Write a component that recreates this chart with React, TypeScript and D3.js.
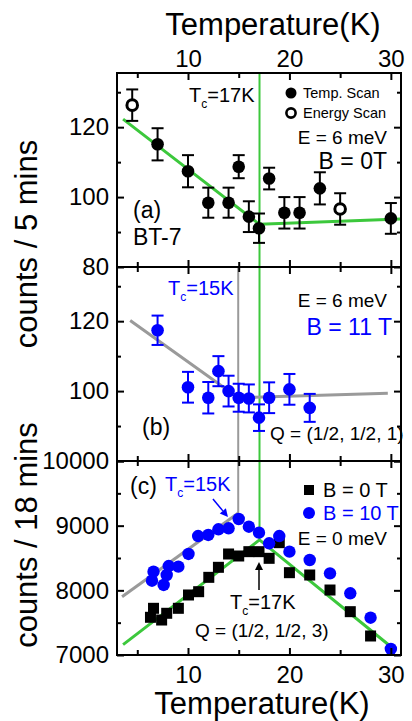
import React, { useEffect, useRef } from 'react';
import * as d3 from 'd3';

const WIDTH = 412;
const HEIGHT = 721;
const LEFT = 117;
const RIGHT = 401;
const TOP = 73;
const PANEL_H = 194;
const FONT = '"Liberation Sans", Arial, Helvetica, sans-serif';
const GREEN = '#3cc83c';
const GREY = '#9a9a9a';
const BLUE = '#0000ff';

// panel (a): B = 0T, E = 6 meV
const aTempT = [7, 10, 12, 14, 15, 16, 17, 18, 19.5, 21, 23, 30];
const aTempV = [115.1, 107.4, 98.4, 98.4, 108.7, 94.4, 91.1, 105.3, 95.5, 95.5, 102.5, 93.9];
const aTempErr = [4.6, 4.6, 4.3, 4.3, 3.3, 4.4, 4.2, 3.1, 4.5, 4.5, 4.6, 4.4];
const aEnergyT = [4.5, 25];
const aEnergyV = [126.3, 96.6];
const aEnergyErr = [4.5, 4.5];
const aFitT = [3.6, 17.05, 30.9];
const aFitV = [122.3, 92.2, 93.7];

// panel (b): B = 11 T
const bT = [7, 10, 12, 13, 14, 15, 16, 17, 18, 20, 22];
const bV = [117.4, 101.1, 98.1, 105.7, 100.0, 98.1, 97.9, 92.4, 98.1, 100.5, 95.2];
const bErr = [4.2, 4.4, 4.5, 4.3, 4.4, 4.0, 4.0, 3.8, 4.4, 4.4, 4.0];
const bFitT = [4.3, 14.95, 29.7];
const bFitV = [120.2, 98.1, 99.4];

// panel (c): E = 0 meV
const c0T = [6.3, 6.6, 7.4, 7.9, 9.05, 10.05, 11.05, 12.05, 13.0, 14.0, 15.0, 16.0, 17.0, 18.0, 19.0, 20.0, 22.0, 24.0, 26.0, 28.0];
const c0V = [7583, 7722, 7541, 7645, 7722, 7928, 7979, 8201, 8356, 8562, 8531, 8598, 8598, 8495, 8737, 8273, 8237, 8005, 7670, 7294];
const c10T = [6.45, 6.6, 7.6, 7.9, 8.1, 9.05, 10.05, 11.0, 12.0, 13.0, 14.0, 15.0, 16.0, 17.0, 18.0, 19.0, 20.0, 22.0, 24.0, 26.0, 28.0, 30.0];
const c10V = [8149, 8288, 8083, 8237, 8376, 8366, 8562, 8840, 8856, 8944, 8959, 9103, 8984, 8892, 8727, 8840, 8598, 8469, 8263, 7954, 7577, 7093];
const cGreenT = [3.6, 17.05, 30.5];
const cGreenV = [7160, 8780, 7066];
const cGreyT = [3.5, 15];
const cGreyV = [7900, 9200];

const xScale = d3.scaleLinear().domain([3, 31]).range([LEFT, RIGHT]);
const yA = d3.scaleLinear().domain([80, 135.5]).range([TOP + PANEL_H, TOP]);
const yB = d3.scaleLinear().domain([80, 135.5]).range([TOP + 2 * PANEL_H, TOP + PANEL_H]);
const yC = d3.scaleLinear().domain([7000, 10000]).range([TOP + 3 * PANEL_H, TOP + 2 * PANEL_H]);

const noLabel = () => '';
const xMajor = [10, 20, 30];
const xMinor = [5, 15, 25];

const mkY = (scale, major, minor, labels) => [
    { axis: d3.axisLeft(scale).tickValues(major).tickSize(-7).tickPadding(8)
        .tickFormat(d => (labels.includes(d) ? String(d) : '')), tr: `translate(${LEFT},0)` },
    { axis: d3.axisLeft(scale).tickValues(minor).tickSize(-4).tickFormat(noLabel), tr: `translate(${LEFT},0)` },
    { axis: d3.axisRight(scale).tickValues(major).tickSize(-7).tickFormat(noLabel), tr: `translate(${RIGHT},0)` },
    { axis: d3.axisRight(scale).tickValues(minor).tickSize(-4).tickFormat(noLabel), tr: `translate(${RIGHT},0)` },
];

const mkX = (top, bottom, topLabels, bottomLabels) => [
    { axis: d3.axisTop(xScale).tickValues(xMajor).tickSize(-7).tickPadding(6)
        .tickFormat(topLabels ? d3.format('d') : noLabel), tr: `translate(0,${top})` },
    { axis: d3.axisTop(xScale).tickValues(xMinor).tickSize(-5).tickFormat(noLabel), tr: `translate(0,${top})` },
    { axis: d3.axisBottom(xScale).tickValues(xMajor).tickSize(-7).tickPadding(11)
        .tickFormat(bottomLabels ? d3.format('d') : noLabel), tr: `translate(0,${bottom})` },
    { axis: d3.axisBottom(xScale).tickValues(xMinor).tickSize(-5).tickFormat(noLabel), tr: `translate(0,${bottom})` },
];

const AXES = [
    ...mkY(yA, [80, 100, 120], [90, 110, 130], [80, 100, 120]),
    ...mkY(yB, [80, 100, 120], [90, 110, 130], [100, 120]),
    ...mkY(yC, [7000, 8000, 9000, 10000], [7500, 8500, 9500], [7000, 8000, 9000, 10000]),
    ...mkX(TOP, TOP + PANEL_H, true, false),
    ...mkX(TOP + PANEL_H, TOP + 2 * PANEL_H, false, false),
    ...mkX(TOP + 2 * PANEL_H, TOP + 3 * PANEL_H, false, true),
];

const Axis = ({ axis, transform }) => {
    const ref = useRef(null);
    useEffect(() => {
        const g = d3.select(ref.current);
        g.call(axis);
        g.select('.domain').remove();
        g.selectAll('line').attr('stroke', '#000').attr('stroke-width', 2);
        g.selectAll('text').attr('font-size', 24).attr('font-family', FONT).attr('fill', '#000');
    }, [axis]);
    return <g ref={ref} transform={transform} />;
};

const line = d3.line();

const ErrorPoints = ({ ts, vs, es, y, color, open }) => (
    <g>
        {ts.map((t, i) => {
            const cx = xScale(t);
            const y1 = y(vs[i] + es[i]);
            const y2 = y(vs[i] - es[i]);
            return (
                <g key={i} stroke={color} strokeWidth={2}>
                    <line x1={cx} x2={cx} y1={y1} y2={y2} />
                    <line x1={cx - 6} x2={cx + 6} y1={y1} y2={y1} />
                    <line x1={cx - 6} x2={cx + 6} y1={y2} y2={y2} />
                    {open
                        ? <circle cx={cx} cy={y(vs[i])} r={5.3} fill="#fff" stroke={color} strokeWidth={3} />
                        : <circle cx={cx} cy={y(vs[i])} r={6.3} fill={color} stroke="none" />}
                </g>
            );
        })}
    </g>
);

const Tc = ({ x, y, value, color }) => (
    <text x={x} y={y} fontSize={20} fill={color} fontFamily={FONT}>
        T<tspan dy={6} fontSize={12}>c</tspan><tspan dy={-6}>={value}K</tspan>
    </text>
);

const Arrow = ({ from, to, color }) => {
    const [x1, y1] = from;
    const [x2, y2] = to;
    const a = Math.atan2(y2 - y1, x2 - x1);
    const L = 8;
    const W = 4;
    const bx = x2 - L * Math.cos(a);
    const by = y2 - L * Math.sin(a);
    const head = [
        [x2, y2],
        [bx + W * Math.sin(a), by - W * Math.cos(a)],
        [bx - W * Math.sin(a), by + W * Math.cos(a)],
    ];
    return (
        <g>
            <line x1={x1} y1={y1} x2={bx} y2={by} stroke={color} strokeWidth={1.5} />
            <polygon points={head.map(p => p.join(',')).join(' ')} fill={color} />
        </g>
    );
};

const App = () => {
    return (
        <svg width={WIDTH} height={HEIGHT} style={{ position: 'absolute', left: 0, top: 0, background: '#fff' }}>
            <rect width={WIDTH} height={HEIGHT} fill="#fff" />

            {/* Tc guide lines */}
            <line x1={xScale(17.05)} x2={xScale(17.05)} y1={TOP} y2={yC(8780)} stroke={GREEN} strokeWidth={2} />
            <line x1={xScale(14.95)} x2={xScale(14.95)} y1={TOP + PANEL_H} y2={yC(9200)} stroke={GREY} strokeWidth={2} />

            {/* fits */}
            <path d={line(aFitT.map((t, i) => [xScale(t), yA(aFitV[i])]))} fill="none" stroke={GREEN} strokeWidth={3} />
            <path d={line(bFitT.map((t, i) => [xScale(t), yB(bFitV[i])]))} fill="none" stroke={GREY} strokeWidth={3} />
            <path d={line(cGreenT.map((t, i) => [xScale(t), yC(cGreenV[i])]))} fill="none" stroke={GREEN} strokeWidth={3} />
            <path d={line(cGreyT.map((t, i) => [xScale(t), yC(cGreyV[i])]))} fill="none" stroke={GREY} strokeWidth={3} />

            {/* panel a points */}
            <ErrorPoints ts={aTempT} vs={aTempV} es={aTempErr} y={yA} color="#000" />
            <ErrorPoints ts={aEnergyT} vs={aEnergyV} es={aEnergyErr} y={yA} color="#000" open />

            {/* panel b points */}
            <ErrorPoints ts={bT} vs={bV} es={bErr} y={yB} color={BLUE} />

            {/* panel c points */}
            {c0T.map((t, i) => (
                <g key={'s' + i}>
                    <line x1={xScale(t)} x2={xScale(t)} y1={yC(c0V[i] + 45)} y2={yC(c0V[i] - 45)} stroke="#000" strokeWidth={1.5} />
                    <rect x={xScale(t) - 5.5} y={yC(c0V[i]) - 5.5} width={11} height={11} fill="#000" />
                </g>
            ))}
            {c10T.map((t, i) => (
                <circle key={'c' + i} cx={xScale(t)} cy={yC(c10V[i])} r={6.2} fill={BLUE} />
            ))}

            {/* axes and frames */}
            {AXES.map((a, i) => <Axis key={i} axis={a.axis} transform={a.tr} />)}
            {[0, 1, 2].map(k => (
                <rect key={k} x={LEFT} y={TOP + k * PANEL_H} width={RIGHT - LEFT} height={PANEL_H}
                    fill="none" stroke="#000" strokeWidth={2} />
            ))}

            {/* titles */}
            <g fontFamily={FONT} fill="#000">
                <text x={273} y={35} fontSize={31} textAnchor="middle">Temperature(K)</text>
                <text x={262} y={714} fontSize={31} textAnchor="middle">Temperature(K)</text>
                <text transform="translate(37,244) rotate(-90)" fontSize={31} textAnchor="middle">counts / 5 mins</text>
                <text transform="translate(37,535) rotate(-90)" fontSize={31} textAnchor="middle">counts / 18 mins</text>
            </g>

            {/* panel a annotations */}
            <Tc x={189} y={102} value={17} color="#000" />
            <circle cx={291} cy={93} r={5.5} fill="#000" />
            <circle cx={291} cy={113} r={4.6} fill="#fff" stroke="#000" strokeWidth={2.6} />
            <g fontFamily={FONT} fill="#000">
                <text x={303} y={98} fontSize={14.5}>Temp. Scan</text>
                <text x={303} y={118} fontSize={14.5}>Energy Scan</text>
                <text x={387} y={144} fontSize={19} textAnchor="end">E = 6 meV</text>
                <text x={387} y={169} fontSize={23} textAnchor="end">B = 0T</text>
                <text x={133} y={218} fontSize={23}>(a)</text>
                <text x={133} y={245} fontSize={23}>BT-7</text>
            </g>

            {/* panel b annotations */}
            <Tc x={168} y={295} value={15} color={BLUE} />
            <g fontFamily={FONT}>
                <text x={387} y={307} fontSize={19} textAnchor="end" fill="#000">E = 6 meV</text>
                <text x={392} y={335} fontSize={23} textAnchor="end" fill={BLUE}>B = 11 T</text>
                <text x={142} y={435} fontSize={23} fill="#000">(b)</text>
                <text x={270} y={440} fontSize={19} fill="#000">Q = (1/2, 1/2, 1)</text>
            </g>

            {/* panel c annotations */}
            <Tc x={165} y={491} value={15} color={BLUE} />
            <Arrow from={[xScale(12.46), yC(9412)]} to={[xScale(13.94), yC(9134)]} color={BLUE} />
            <Tc x={230} y={609} value={17} color="#000" />
            <Arrow from={[xScale(17.0), yC(8005)]} to={[xScale(17.0), yC(8440)]} color="#000" />
            <rect x={304} y={485} width={10} height={10} fill="#000" />
            <circle cx={309} cy={513} r={6} fill={BLUE} />
            <g fontFamily={FONT}>
                <text x={130} y={494} fontSize={23} fill="#000">(c)</text>
                <text x={323} y={497} fontSize={20} fill="#000">B = 0 T</text>
                <text x={323} y={520} fontSize={20} fill={BLUE}>B = 10 T</text>
                <text x={387} y={545} fontSize={19} textAnchor="end" fill="#000">E = 0 meV</text>
                <text x={195} y={637} fontSize={19} fill="#000">Q = (1/2, 1/2, 3)</text>
            </g>
        </svg>
    );
};

export default App;
